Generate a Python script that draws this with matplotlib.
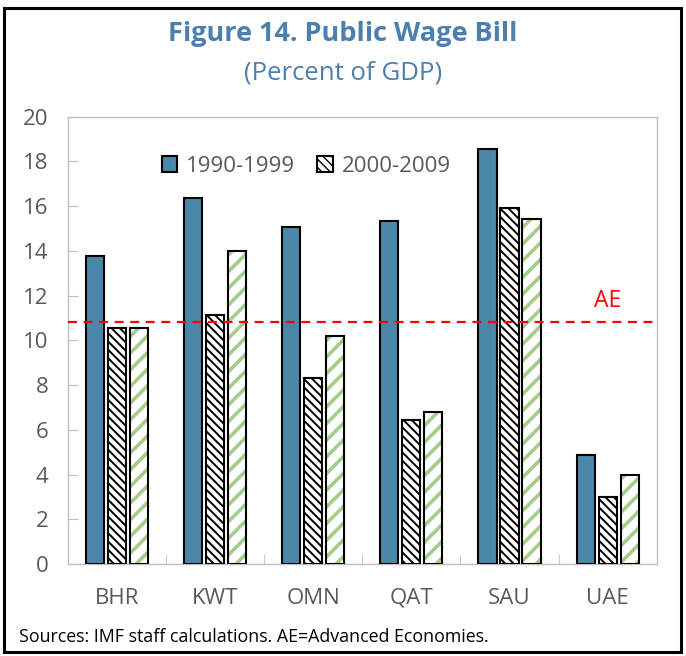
import matplotlib
matplotlib.use('Agg')
import matplotlib.pyplot as plt
from matplotlib.patches import Rectangle
import numpy as np

countries = ['BHR', 'KWT', 'OMN', 'QAT', 'SAU', 'UAE']
wage_1990s = [13.78, 16.35, 15.07, 15.35, 18.58, 4.87]
wage_2000s = [10.54, 11.13, 8.31, 6.44, 15.90, 3.01]
wage_other = [10.54, 13.99, 10.19, 6.78, 15.45, 3.96]
ae_level = 10.83

blue = '#4A87A8'
green = '#A3CD88'
grey_text = '#595959'
title_blue = '#4A7FB0'

plt.rcParams['font.family'] = ['Open Sans', 'DejaVu Sans']

fig = plt.figure(figsize=(6.86, 6.56), dpi=100)
ax = fig.add_axes([0.0987, 0.1402, 0.8586, 0.6818])

x = np.arange(len(countries))
w = 0.185
step = 0.224

ax.bar(x - step, wage_1990s, w, color=blue, edgecolor='black', linewidth=1.5,
       label='1990-1999', zorder=3)
with plt.rc_context({'hatch.linewidth': 1.4}):
    ax.bar(x, wage_2000s, w, color='white', edgecolor='black', linewidth=1.5,
           hatch='\\\\\\\\', label='2000-2009', zorder=3)
# green hatch: draw hatch in green, then outline in black on top
with plt.rc_context({'hatch.linewidth': 2.6}):
    ax.bar(x + step, wage_other, w, color='white', edgecolor=green, linewidth=0,
           hatch='//', zorder=3)
ax.bar(x + step, wage_other, w, fill=False, edgecolor='black', linewidth=1.5,
       zorder=4)

ax.axhline(ae_level, color='#FF0000', linestyle=(0, (4, 3)), linewidth=1.6, zorder=5)
ax.text(5.0, ae_level + 0.4, 'AE', color='#FF0000', fontsize=16.5,
        ha='center', va='bottom')

ax.set_xlim(-0.5, 5.5)
ax.set_ylim(0, 20)
ax.set_yticks(range(0, 21, 2))
ax.set_xticks(x)
ax.set_xticklabels(countries)
ax.set_xticks(np.arange(-0.5, 6.0, 1.0), minor=True)
ax.tick_params(axis='x', which='major', length=0, pad=17, labelsize=16,
               labelcolor=grey_text)
ax.tick_params(axis='x', which='minor', length=7, direction='in', color='#BFBFBF')
ax.tick_params(axis='y', length=7, direction='in', color='#BFBFBF', pad=14,
               labelsize=16, labelcolor=grey_text)
for s in ax.spines.values():
    s.set_color('#BFBFBF')
    s.set_linewidth(1)

ax.legend(loc='upper center', bbox_to_anchor=(0.405, 0.958), ncol=2, frameon=False,
          fontsize=16, handlelength=0.7, handleheight=0.7, handletextpad=0.4,
          columnspacing=1.0, labelcolor=grey_text)

fig.text(0.5, 0.948, 'Figure 14. Public Wage Bill', ha='center', va='center',
         fontsize=19.5, fontweight='bold', color=title_blue)
fig.text(0.5, 0.889, '(Percent of GDP)', ha='center', va='center',
         fontsize=18.5, color=title_blue)
fig.text(0.027, 0.029, 'Sources: IMF staff calculations. AE=Advanced Economies.',
         ha='left', va='center', fontsize=12.8, color='black')

fig.patches.append(Rectangle((0.006, 0.006), 0.986, 0.982, transform=fig.transFigure,
                             fill=False, edgecolor='black', linewidth=2.2))

fig.savefig('out.png', dpi=100)
